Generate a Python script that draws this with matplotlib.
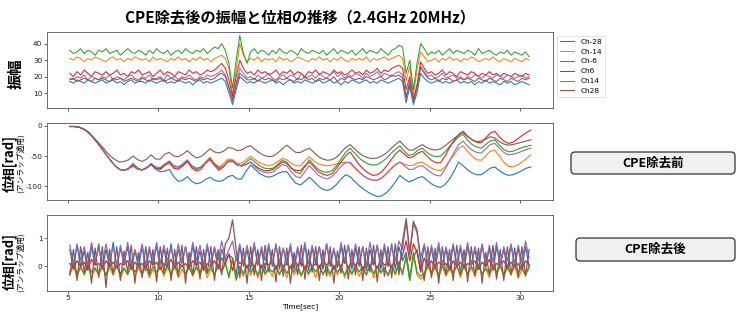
import numpy as np
import matplotlib
matplotlib.use("Agg")
import matplotlib.pyplot as plt
from matplotlib.patches import FancyBboxPatch

plt.rcParams['font.family'] = ['DejaVu Sans', 'Noto Sans CJK JP']
plt.rcParams['axes.unicode_minus'] = False

CJK = ['Noto Sans CJK JP', 'DejaVu Sans']

channels = ["Ch-28", "Ch-14", "Ch-6", "Ch6", "Ch14", "Ch28"]
colors = ["#1f77b4", "#ff7f0e", "#2ca02c", "#d62728", "#9467bd", "#8c564b"]

title = "CPE除去後の振幅と位相の推移（2.4GHz 20MHz）"
box_labels = ["CPE除去前", "CPE除去後"]

# sample times (sec)
time_amp = np.linspace(5.1, 30.5, 128)
time_phase = np.linspace(5.1, 30.6, 103)

# ---------------- amplitude ----------------
amp_m28 = [17,16,18,17,16,18,17,16,17,18, 16,17,18,16,17,15,17,18,16,17,
           17,16,18,17,16,17,18,16,17,16, 18,17,16,17,15,17,18,16,17,16,
           17,18,19,17,10,3,12,20,18,16, 17,16,18,17,16,17,18,16,17,15,
           17,18,16,17,16,18,17,16,17,18, 16,17,18,16,17,15,17,16,18,17,
           16,17,18,16,17,16,18,17,16,17, 18,19,17,4,14,3,10,22,19,17,
           16,17,18,16,17,16,17,18,16,17, 16,17,15,17,16,18,16,17,16,15,
           17,16,17,15,16,17,16,15]
amp_m14 = [31,30,32,31,29,31,30,32,31,30, 29,31,32,30,31,29,31,30,32,31,
           30,31,29,32,30,31,30,29,31,30, 32,30,31,29,31,30,32,30,31,29,
           31,32,33,31,25,9,24,40,33,29, 31,30,32,29,31,30,31,29,32,30,
           31,29,30,32,31,30,29,31,30,32, 30,31,29,31,30,32,30,29,31,30,
           31,30,32,29,31,30,31,32,30,31, 32,33,31,18,26,8,24,35,32,29,
           30,31,29,31,30,32,30,31,29,31, 30,32,31,29,30,31,30,32,30,29,
           31,30,29,31,30,29,31,30]
amp_m6 = [36,34,35,37,34,36,35,33,36,35, 37,34,35,36,33,35,37,35,34,36,
          35,33,36,34,37,35,34,36,33,35, 36,34,37,35,34,36,35,37,34,36,
          38,37,40,36,28,13,30,45,34,28, 35,37,34,36,35,33,36,34,37,35,
          34,36,35,33,37,35,34,36,35,34, 36,33,35,37,34,36,35,34,36,33,
          35,37,34,36,35,34,37,35,33,36, 37,39,38,22,30,12,28,40,37,33,
          35,34,36,33,35,37,34,36,35,34, 36,35,33,37,34,35,36,34,33,35,
          34,36,33,35,34,33,35,32]
amp_p6 = [22,20,23,21,24,22,20,23,22,21, 23,21,22,24,21,22,20,23,22,24,
          21,22,23,20,22,24,21,23,22,20, 23,22,21,24,22,23,21,22,24,23,
          24,26,28,25,18,8,20,30,25,22, 23,21,24,22,23,21,22,24,21,23,
          22,24,21,23,22,20,23,22,24,21, 23,22,21,24,22,23,21,22,24,22,
          23,21,24,22,23,25,22,24,23,25, 26,27,25,12,20,6,15,29,25,22,
          23,21,22,24,21,23,22,20,23,22, 21,23,22,20,22,21,23,21,22,20,
          22,21,20,22,21,20,22,21]
amp_p14 = [19,18,20,19,21,18,20,19,18,20, 19,21,18,20,19,18,20,21,19,18,
           20,19,21,18,19,20,18,21,19,20, 18,20,19,21,19,18,20,19,21,20,
           21,22,24,21,14,5,16,25,22,19, 20,18,21,19,20,22,19,18,20,21,
           19,21,20,18,22,19,20,21,19,22, 20,19,21,23,20,22,19,21,20,22,
           21,19,22,20,21,23,20,22,21,20, 22,23,21,6,18,4,14,26,23,20,
           21,19,20,22,19,20,21,19,20,18, 20,19,21,20,19,21,20,19,21,20,
           19,21,20,19,20,21,19,20]
amp_p28 = [18,19,17,18,19,18,17,19,18,19, 18,17,19,18,19,17,18,19,18,17,
           19,18,17,19,18,19,17,18,19,18, 17,19,18,19,18,17,19,18,19,18,
           19,21,22,20,13,6,15,22,20,18, 18,19,17,19,18,19,18,17,19,18,
           19,18,17,19,18,20,18,19,17,19, 18,19,18,20,17,19,18,20,19,18,
           19,18,20,19,18,19,20,18,19,21, 20,21,19,8,16,5,13,26,22,19,
           18,19,17,19,18,19,17,18,19,18, 19,18,17,19,18,17,19,18,17,19,
           18,17,19,18,17,19,18,19]

# ---------------- phase before CPE removal (unwrapped) ----------------
ph_m28 = [-1,-1,-2,-5,-10,-18,-27,-37,-47,-57, -66,-72,-74,-71,-64,-70,-73,-70,-64,-72,
          -76,-75,-72,-84,-92,-90,-84,-92,-96,-94, -89,-85,-90,-92,-90,-84,-82,-88,-88,-75,
          -65,-72,-79,-83,-85,-83,-79,-76,-76,-86, -95,-98,-92,-85,-92,-100,-105,-107,-104,-97,
          -88,-81,-84,-92,-99,-105,-110,-114,-117,-116, -111,-103,-93,-82,-88,-93,-90,-86,-84,-90,
          -96,-100,-102,-97,-88,-75,-60,-66,-73,-78, -81,-81,-76,-70,-68,-74,-79,-82,-81,-78,
          -74,-70,-68]
ph_m14 = [-1,-1,-2,-5,-10,-18,-27,-37,-47,-57, -66,-72,-74,-71,-66,-71,-73,-69,-63,-70,
          -72,-66,-62,-69,-70,-66,-60,-68,-72,-68, -60,-52,-62,-68,-62,-55,-56,-62,-62,-56,
          -50,-56,-61,-64,-66,-64,-59,-54,-56,-62, -66,-66,-58,-51,-58,-63,-65,-66,-65,-63,
          -61,-60,-62,-70,-77,-83,-87,-90,-90,-87, -80,-72,-65,-60,-63,-66,-65,-61,-60,-65,
          -70,-73,-74,-68,-58,-48,-37,-33,-42,-50, -56,-57,-50,-42,-40,-50,-60,-67,-68,-65,
          -60,-54,-48]
ph_m6 = [-1,-1,-2,-5,-10,-18,-27,-37,-47,-57, -66,-72,-74,-70,-62,-70,-73,-70,-64,-70,
         -71,-64,-58,-66,-68,-64,-58,-66,-72,-69, -62,-56,-64,-70,-66,-60,-59,-65,-66,-60,
         -54,-60,-66,-70,-71,-70,-64,-57,-60,-70, -77,-79,-68,-56,-65,-72,-76,-77,-74,-66,
         -55,-44,-37,-45,-53,-59,-63,-65,-64,-60, -54,-46,-39,-33,-42,-49,-47,-40,-37,-44,
         -49,-51,-50,-43,-34,-26,-18,-14,-24,-31, -35,-37,-31,-25,-23,-32,-39,-43,-42,-39,
         -36,-34,-32]
ph_p6 = [-1,-1,-2,-5,-10,-18,-27,-37,-47,-57, -66,-72,-74,-71,-66,-72,-73,-69,-63,-70,
         -72,-65,-60,-70,-72,-66,-58,-70,-75,-72, -62,-54,-64,-72,-68,-58,-58,-64,-66,-64,
         -60,-66,-71,-74,-74,-72,-66,-60,-62,-70, -74,-74,-66,-60,-68,-76,-80,-82,-79,-70,
         -60,-50,-43,-54,-64,-72,-78,-82,-81,-76, -67,-57,-47,-40,-47,-53,-51,-45,-42,-50,
         -57,-61,-61,-50,-36,-24,-14,-9,-17,-23, -27,-28,-20,-12,-9,-18,-25,-29,-27,-22,
         -16,-11,-7]
ph_p14 = [-1,-1,-2,-5,-10,-18,-27,-37,-47,-57, -66,-72,-74,-71,-64,-71,-73,-69,-62,-68,
          -69,-63,-59,-66,-68,-63,-56,-66,-70,-68, -62,-56,-66,-74,-68,-59,-58,-64,-67,-64,
          -60,-68,-74,-77,-78,-76,-70,-64,-66,-76, -84,-86,-76,-66,-74,-82,-86,-88,-84,-76,
          -67,-61,-60,-68,-76,-83,-88,-90,-90,-86, -79,-71,-64,-60,-66,-72,-72,-67,-66,-72,
          -78,-82,-83,-72,-58,-44,-31,-25,-34,-40, -44,-45,-38,-31,-29,-37,-44,-48,-47,-45,
          -42,-39,-37]
ph_p28 = [-1,-1,-2,-5,-10,-17,-25,-33,-42,-50, -56,-60,-59,-56,-50,-56,-59,-55,-48,-55,
          -55,-47,-44,-50,-51,-47,-41,-48,-53,-51, -45,-38,-43,-45,-42,-36,-37,-41,-40,-35,
          -33,-39,-45,-49,-51,-50,-45,-38,-32,-38, -44,-44,-40,-37,-44,-51,-55,-57,-56,-52,
          -44,-36,-31,-38,-45,-50,-53,-54,-53,-50, -45,-38,-31,-25,-33,-40,-40,-35,-31,-36,
          -39,-40,-38,-33,-27,-21,-15,-11,-18,-23, -26,-25,-22,-18,-20,-26,-30,-32,-31,-29,
          -27,-25,-23]

# ---------------- phase after CPE removal ----------------
pc_m28 = [0.6,-0.1,0.75,0.0,0.55,-0.15,0.7,0.05,0.8,-0.1, 0.6,0.0,0.85,-0.05,0.65,0.1,0.7,-0.1,0.55,0.0,
          0.7,-0.15,0.6,0.05,0.75,-0.1,0.65,0.0,0.8,-0.05, 0.6,0.1,0.7,-0.1,0.75,0.0,0.55,-0.15,0.7,0.05,
          0.65,-0.1,0.6,0.2,0.4,0.3,-0.3,0.7,0.0,0.6, -0.1,0.75,0.05,0.6,-0.15,0.7,0.0,0.8,-0.1,0.65,
          0.05,0.7,-0.1,0.6,0.0,0.75,-0.15,0.65,0.05,0.7, -0.1,0.8,0.0,0.6,-0.05,0.7,0.1,0.75,-0.1,0.65,
          0.0,0.7,-0.15,0.6,0.05,0.75,-0.1,0.65,0.0,0.8, -0.1,0.7,0.2,0.5,-0.4,0.3,0.6,-0.1,0.75,0.0,
          0.65,-0.1,0.7,0.05,0.6,-0.15,0.75,0.0,0.65,-0.1, 0.7,0.05,0.6,-0.1,0.75,0.0,0.65,-0.15,0.7,0.05,
          0.6,-0.1,0.75,0.0,0.65,-0.05,0.7,0.0]
pc_m14 = [-0.3,0.0,-0.35,-0.05,-0.25,0.05,-0.4,-0.1,-0.3,0.0, -0.35,-0.05,-0.3,0.05,-0.4,-0.1,-0.25,0.0,-0.35,-0.05,
          -0.3,0.0,-0.4,-0.1,-0.3,0.05,-0.35,-0.05,-0.25,0.0, -0.4,-0.1,-0.3,0.0,-0.35,-0.05,-0.3,0.05,-0.4,-0.1,
          -0.3,0.0,-0.2,0.1,-0.35,0.2,-0.5,-0.1,-0.35,0.0, -0.3,-0.05,-0.4,0.0,-0.3,-0.1,-0.35,0.05,-0.25,-0.05,
          -0.4,0.0,-0.3,-0.1,-0.35,0.05,-0.3,-0.05,-0.4,0.0, -0.25,-0.1,-0.35,0.0,-0.3,0.05,-0.4,-0.05,-0.3,0.0,
          -0.35,-0.1,-0.3,0.05,-0.4,0.0,-0.25,-0.05,-0.35,0.0, -0.3,0.05,-0.2,0.3,-0.5,0.4,-0.3,-0.45,-0.35,0.0,
          -0.3,-0.05,-0.4,0.0,-0.35,-0.1,-0.3,0.05,-0.4,0.0, -0.3,-0.05,-0.35,0.0,-0.25,-0.1,-0.4,0.05,-0.3,0.0,
          -0.35,-0.05,-0.3,0.0,-0.4,-0.1,-0.3,-0.05]
pc_m6 = [-0.2,0.05,-0.25,0.0,-0.3,0.05,-0.2,-0.05,-0.25,0.0, -0.3,0.05,-0.2,0.0,-0.25,-0.05,-0.3,0.05,-0.2,0.0,
         -0.25,0.05,-0.3,0.0,-0.2,-0.05,-0.25,0.05,-0.3,0.0, -0.2,0.05,-0.25,-0.05,-0.3,0.0,-0.2,0.05,-0.25,0.0,
         -0.3,0.05,-0.2,0.15,-0.4,0.3,-0.45,0.0,-0.25,0.05, -0.2,0.0,-0.3,0.05,-0.25,-0.05,-0.2,0.0,-0.3,0.05,
         -0.25,0.0,-0.2,0.05,-0.3,-0.05,-0.25,0.0,-0.2,0.05, -0.3,0.0,-0.25,0.05,-0.2,-0.05,-0.3,0.0,-0.25,0.05,
         -0.2,0.0,-0.3,0.05,-0.25,0.0,-0.2,-0.05,-0.3,0.05, -0.25,0.1,-0.3,0.4,-0.5,0.5,-0.2,-0.35,-0.25,0.05,
         -0.2,0.0,-0.3,0.05,-0.25,-0.05,-0.2,0.0,-0.3,0.05, -0.25,0.0,-0.2,0.05,-0.3,-0.05,-0.25,0.0,-0.2,0.05,
         -0.3,0.0,-0.25,0.05,-0.2,-0.05,-0.3,0.0]
pc_p6 = [0.1,-0.05,0.2,0.0,0.15,-0.1,0.25,0.05,0.1,-0.05, 0.2,0.0,0.15,-0.05,0.1,0.05,0.2,-0.1,0.15,0.0,
         0.1,-0.05,0.2,0.05,0.15,-0.1,0.1,0.0,0.25,-0.05, 0.15,0.0,0.1,-0.05,0.2,0.05,0.15,-0.1,0.1,0.0,
         0.2,-0.05,0.3,0.1,0.45,-0.15,0.3,0.1,0.2,-0.05, 0.15,0.0,0.2,-0.05,0.1,0.05,0.2,-0.1,0.15,0.0,
         0.1,-0.05,0.25,0.05,0.15,-0.1,0.2,0.0,0.1,-0.05, 0.2,0.05,0.15,-0.1,0.1,0.0,0.25,-0.05,0.15,0.05,
         0.2,-0.1,0.1,0.0,0.15,-0.05,0.2,0.05,0.1,-0.05, 0.25,0.1,0.4,0.9,0.2,0.8,0.5,-0.2,0.3,0.0,
         0.2,-0.05,0.15,0.05,0.1,-0.1,0.2,0.0,0.15,-0.05, 0.1,0.05,0.2,-0.1,0.15,0.0,0.25,-0.05,0.1,0.05,
         0.2,-0.05,0.15,0.0,0.1,-0.1,0.2,0.05]
pc_p14 = [0.75,0.1,0.8,0.2,0.7,0.05,0.85,0.15,0.65,0.1, 0.8,0.2,0.7,0.0,0.75,0.15,0.85,0.1,0.6,0.2,
          0.8,0.05,0.7,0.15,0.85,0.1,0.75,0.2,0.65,0.05, 0.8,0.15,0.7,0.1,0.85,0.2,0.75,0.05,0.8,0.1,
          0.7,0.2,0.9,0.3,0.6,0.9,0.2,0.8,0.1,0.75, 0.15,0.85,0.05,0.7,0.2,0.8,0.1,0.75,0.15,0.65,
          0.2,0.8,0.05,0.7,0.15,0.85,0.1,0.75,0.2,0.7, 0.1,0.8,0.15,0.65,0.05,0.85,0.2,0.75,0.1,0.8,
          0.15,0.7,0.05,0.85,0.2,0.75,0.1,0.8,0.15,0.7, 0.2,0.9,0.6,1.6,0.4,1.5,1.2,0.3,0.8,0.1,
          0.75,0.15,0.85,0.05,0.7,0.2,0.8,0.1,0.75,0.15, 0.85,0.05,0.7,0.2,0.8,0.1,0.75,0.15,0.85,0.05,
          0.7,0.2,0.8,0.1,0.75,0.15,0.9,0.3]
pc_p28 = [-0.3,0.6,-0.5,0.7,-0.2,0.5,-0.6,0.65,-0.4,0.7, -0.75,0.6,-0.3,0.7,-0.5,0.55,-0.2,0.75,-0.6,0.5,
          -0.4,0.7,-0.3,0.6,-0.55,0.7,-0.2,0.65,-0.5,0.6, -0.35,0.75,-0.6,0.5,-0.3,0.7,-0.45,0.6,-0.25,0.7,
          -0.5,0.6,-0.3,0.8,1.0,1.65,0.6,-0.4,0.65,-0.6, 0.7,-0.3,0.6,-0.5,0.75,-0.2,0.6,-0.55,0.7,-0.35,
          0.65,-0.6,0.5,-0.3,0.75,-0.45,0.6,-0.2,0.7,-0.5, 0.6,-0.35,0.7,-0.6,0.55,-0.25,0.75,-0.45,0.6,-0.3,
          0.7,-0.5,0.65,-0.2,0.75,-0.55,0.6,-0.35,0.7,-0.4, 0.8,-0.3,0.9,1.7,0.5,1.6,1.3,0.2,-0.5,0.7,
          -0.4,0.65,-0.6,0.7,-0.3,0.6,-0.5,0.75,-0.25,0.6, -0.55,0.7,-0.35,0.65,-0.6,0.5,-0.3,0.75,-0.45,0.6,
          -0.5,0.7,-0.3,0.65,-0.4,0.7,-0.35,0.6]

amp_series = [amp_m28, amp_m14, amp_m6, amp_p6, amp_p14, amp_p28]
ph_series = [ph_m28, ph_m14, ph_m6, ph_p6, ph_p14, ph_p28]
pc_series = [pc_m28, pc_m14, pc_m6, pc_p6, pc_p14, pc_p28]

amp_ticks = [10, 20, 30, 40]
ph_ticks = [0, -50, -100]
pc_ticks = [0, 1]
x_ticks = [5, 10, 15, 20, 25, 30]

W, H = 740, 331
fig = plt.figure(figsize=(7.4, 3.31), dpi=100)

def px_axes(x0, y0, x1, y1):
    return fig.add_axes([x0 / W, 1 - y1 / H, (x1 - x0) / W, (y1 - y0) / H])

ax1 = px_axes(47, 32, 553, 108)
ax2 = px_axes(47, 123, 553, 200)
ax3 = px_axes(47, 215, 553, 291)

for ax, series, tt, lw in [(ax1, amp_series, time_amp, 0.75), (ax2, ph_series, time_phase, 0.8),
                           (ax3, pc_series, time_amp, 0.9)]:
    for s, c, lab in zip(series, colors, channels):
        ax.plot(tt, s, color=c, lw=lw, label=lab)
    ax.set_xlim(3.84, 31.82)
    ax.set_xticks(x_ticks)
    ax.tick_params(labelsize=5.3, length=2, width=0.5, pad=1.2, colors='#222222')
    for sp in ax.spines.values():
        sp.set_linewidth(0.6)
        sp.set_color('#555555')

ax1.set_yticks(amp_ticks)
ax2.set_yticks(ph_ticks)
ax3.set_yticks(pc_ticks)
ax1.set_xticklabels([])
ax2.set_xticklabels([])

ax1.set_title(title, fontsize=11, fontweight='bold', family=CJK, pad=7)
ax3.set_xlabel("Time[sec]", fontsize=5.3, labelpad=1.5)

leg = ax1.legend(loc='upper left', bbox_to_anchor=(1.0, 1.0), fontsize=5.3,
                 frameon=True, borderaxespad=0.5)
leg.get_frame().set_linewidth(0.5)

# y labels
fig.text(16 / W, 1 - 74 / H, "振幅", rotation=90, ha='center', va='center',
         fontsize=11, fontweight='bold', family=CJK)
for yc in (163, 262):
    fig.text(9.5 / W, 1 - yc / H, "位相[rad]", rotation=90, ha='center', va='center',
             fontsize=9.3, fontweight='bold', family=CJK)
    fig.text(20.5 / W, 1 - yc / H, "(アンラップ適用)", rotation=90, ha='center', va='center',
             fontsize=5.6, family=CJK)

# side boxes
for (x0, y0, x1, y1), lab in zip([(571, 152, 735, 174), (576, 238, 735, 261)], box_labels):
    box = FancyBboxPatch((x0 / 100, (H - y1) / 100), (x1 - x0) / 100, (y1 - y0) / 100,
                         boxstyle='round,pad=0,rounding_size=0.04',
                         transform=fig.dpi_scale_trans, facecolor='#f0f0f0',
                         edgecolor='#333333', linewidth=0.9)
    fig.add_artist(box)
    fig.text((x0 + x1) / 2 / W, 1 - (y0 + y1) / 2 / H, lab, ha='center', va='center',
             fontsize=9, fontweight='bold', family=CJK)

fig.savefig("out.png", dpi=100)
